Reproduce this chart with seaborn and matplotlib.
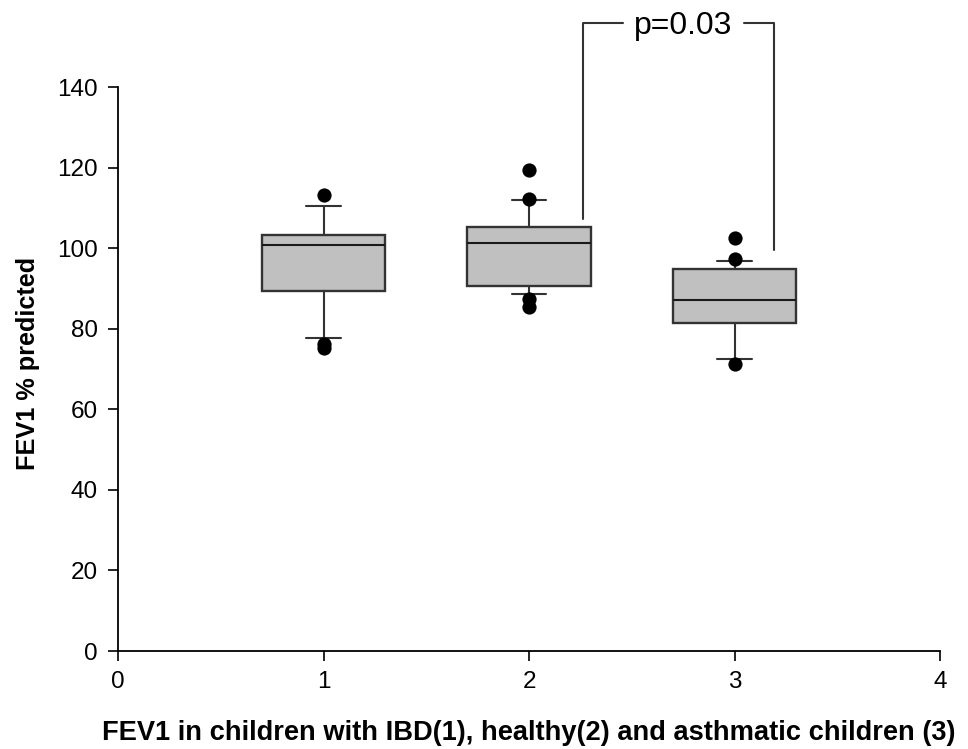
import matplotlib
matplotlib.use("Agg")
import matplotlib.pyplot as plt
import seaborn as sns
import pandas as pd

# Box summaries (SigmaPlot style: whiskers at 10th/90th percentiles)
groups = [1, 2, 3]
q1 = [89.3, 90.7, 81.3]
medians = [100.8, 101.3, 87.2]
q3 = [103.3, 105.2, 94.8]
whisker_low = [77.7, 88.5, 72.4]
whisker_high = [110.4, 111.9, 96.8]

# Points beyond the whiskers
outlier_group = [1, 1, 1, 2, 2, 2, 2, 3, 3, 3]
outlier_value = [113.3, 76.3, 75.2, 119.3, 112.2, 87.4, 85.3, 102.4, 97.3, 71.3]

x_ticks = [0, 1, 2, 3, 4]
y_ticks = [0, 20, 40, 60, 80, 100, 120, 140]
x_label = "FEV1 in children with IBD(1), healthy(2) and asthmatic children (3)"
y_label = "FEV1 % predicted"
p_label = "p=0.03"

sns.set_style("ticks")
plt.rcParams["font.family"] = ["Liberation Sans", "DejaVu Sans"]

fig = plt.figure(figsize=(9.68, 7.49), dpi=100)
ax = fig.add_axes([118 / 968, 1 - 651 / 749, (940 - 118) / 968, (651 - 87) / 749])

edge = "#333333"
stats = [
    dict(med=m, q1=a, q3=b, whislo=lo, whishi=hi, fliers=[])
    for m, a, b, lo, hi in zip(medians, q1, q3, whisker_low, whisker_high)
]
ax.bxp(
    stats,
    positions=groups,
    widths=0.6,
    capwidths=0.17,
    patch_artist=True,
    showfliers=False,
    boxprops=dict(facecolor="#c0c0c0", edgecolor=edge, linewidth=1.7),
    medianprops=dict(color="#1a1a1a", linewidth=1.5),
    whiskerprops=dict(color=edge, linewidth=1.5),
    capprops=dict(color=edge, linewidth=1.5),
    manage_ticks=False,
)

outliers = pd.DataFrame({"group": outlier_group, "value": outlier_value})
sns.scatterplot(
    data=outliers, x="group", y="value", ax=ax,
    color="black", edgecolor="black", s=105, linewidth=0, zorder=5, legend=False,
)

ax.set_xlim(0, 4)
ax.set_ylim(0, 140)
ax.set_xticks(x_ticks)
ax.set_yticks(y_ticks)
ax.tick_params(axis="both", direction="out", length=7.2, width=1.2,
               labelsize=17.5, colors="black", pad=7.5)
for side in ("top", "right"):
    ax.spines[side].set_visible(False)
for side in ("left", "bottom"):
    ax.spines[side].set_linewidth(1.3)
    ax.spines[side].set_color("black")

ax.set_xlabel(x_label, fontsize=19.6, fontweight="bold", labelpad=19, color="black")
ax.set_ylabel(y_label, fontsize=18.2, fontweight="bold", color="black")
ax.yaxis.set_label_coords(-0.095, 0.51)

# Significance bracket between groups 2 and 3
bracket_top = 156.0
ax.plot([2.263, 2.263, 2.457], [107.2, bracket_top, bracket_top],
        color=edge, linewidth=1.5, clip_on=False)
ax.plot([3.046, 3.192, 3.192], [bracket_top, bracket_top, 99.5],
        color=edge, linewidth=1.5, clip_on=False)
ax.text(2.749, bracket_top, p_label, ha="center", va="center_baseline",
        fontsize=23, color="black", clip_on=False)

fig.savefig("out.png", dpi=100)
